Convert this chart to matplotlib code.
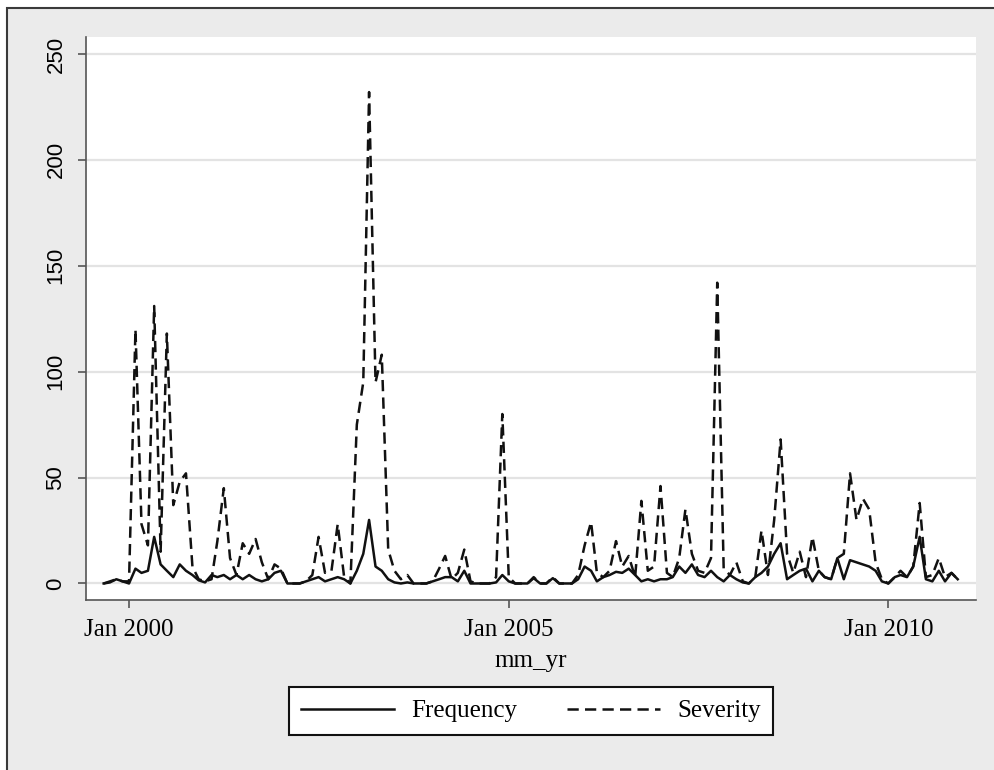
import matplotlib
matplotlib.use("Agg")
import matplotlib.pyplot as plt
from matplotlib.patches import Rectangle
import pandas as pd
import datetime as dt

# monthly series, Sep 1999 .. Dec 2010
start_month = "1999-09-01"
frequency = [0, 0.5, 2, 1, 0, 7, 5, 6, 22, 9, 6, 3, 9, 6, 4, 1.5, 0.5, 4, 3, 4,
             2, 4, 2, 4, 2, 1, 2, 5, 6, 0, 0, 0, 1, 2, 3, 1, 2, 3, 2, 0,
             6, 14, 30, 8, 6, 2, 0.5, 0, 0.5, 0, 0, 0, 1, 2, 3, 3, 1, 6, 0, 0,
             0, 0, 0.5, 4, 1, 0, 0, 0, 2.5, 0, 0, 2.5, 0, 0, 0, 2, 8, 6, 1, 3,
             4, 5.5, 5, 7, 4, 1, 2, 1, 2, 2, 3, 8, 5, 9, 4, 3, 6, 3, 1, 4,
             2, 0.5, 0, 3, 5, 8, 14, 19, 2, 4, 6, 7, 1, 6, 3, 2, 12, 2, 11, 10,
             9, 8, 6, 1, 0, 3, 4, 3, 8, 22, 2, 1, 6, 1, 5, 2]
severity = [0, 1, 2, 1, 1, 120, 28, 18, 131, 15, 118, 37, 48, 52, 8, 2, 1, 2, 20, 45,
            12, 4, 19, 14, 21, 10, 2, 9, 7, 0, 0, 0, 1, 4, 22, 5, 6, 28, 3, 0,
            75, 95, 232, 95, 108, 16, 6, 2, 4, 0, 0, 0, 1, 7, 13, 2, 5, 16, 1, 0,
            0, 0, 3, 80, 3, 0, 0, 0, 3, 0, 0, 3, 0, 0, 0, 4, 18, 29, 5, 3,
            6, 20, 8, 13, 3, 39, 6, 8, 46, 5, 3, 12, 35, 14, 6, 5, 12, 142, 7, 4,
            10, 1, 0, 3, 25, 4, 30, 68, 14, 5, 15, 3, 22, 6, 3, 2, 12, 14, 52, 30,
            40, 35, 10, 2, 0, 3, 6, 3, 8, 38, 3, 4, 12, 3, 5, 2]
y_ticks = [0, 50, 100, 150, 200, 250]
x_ticks = [dt.datetime(2000, 1, 1), dt.datetime(2005, 1, 1), dt.datetime(2010, 1, 1)]
x_ticklabels = ["Jan 2000", "Jan 2005", "Jan 2010"]

months = pd.date_range(start_month, periods=len(frequency), freq="MS")

bg = "#ebebeb"
serif = ["Liberation Serif", "DejaVu Serif"]

fig = plt.figure(figsize=(9.94, 7.7), dpi=100, facecolor="white")
# grey graph region with a dark frame on left/top
fig.patches.append(Rectangle((7 / 994, -0.02), 1.05, 1 - 8 / 770 + 0.02,
                             transform=fig.transFigure, facecolor=bg,
                             edgecolor="#3a3a3a", linewidth=1.5, zorder=-10))

ax = fig.add_axes([86 / 994, 170 / 770, (976 - 86) / 994, (600 - 37) / 770])
ax.set_facecolor("white")

ax.plot(months, frequency, color="#111111", lw=1.8,
        label="Frequency", zorder=3)
ax.plot(months, severity, color="#111111", lw=1.8, linestyle=(0, (4.5, 2.5)),
        label="Severity", zorder=3)

ax.set_ylim(-7.8, 258)
ax.set_xlim(dt.datetime(1999, 6, 8), dt.datetime(2011, 2, 27))

ax.set_yticks(y_ticks)
ax.set_yticklabels([str(v) for v in y_ticks], rotation=90, va="center",
                   family=["Liberation Sans", "DejaVu Sans"], fontsize=16)
ax.set_xticks(x_ticks)
ax.set_xticklabels(x_ticklabels, family=serif, fontsize=18)
ax.tick_params(axis="y", length=6, width=1.2, color="#555555", pad=8)
ax.tick_params(axis="x", length=6, width=1.2, color="#555555", pad=8)

ax.grid(axis="y", color="#e3e3e3", lw=1.6, zorder=0)
ax.set_axisbelow(True)
for side in ["top", "right"]:
    ax.spines[side].set_visible(False)
for side in ["left", "bottom"]:
    ax.spines[side].set_color("#555555")
    ax.spines[side].set_linewidth(1.2)

ax.set_xlabel("mm_yr", family=serif, fontsize=18, labelpad=6)

leg = fig.legend(loc="center", bbox_to_anchor=(531 / 994, 1 - 711 / 770),
                 ncol=2, prop={"family": serif, "size": 18},
                 frameon=True, fancybox=False, edgecolor="#111111",
                 framealpha=1, handlelength=3.7, handletextpad=0.7,
                 columnspacing=2.0, borderpad=0.5)
leg.get_frame().set_linewidth(1.5)
leg.get_frame().set_facecolor("white")

fig.savefig("out.png", dpi=100, facecolor=fig.get_facecolor())
